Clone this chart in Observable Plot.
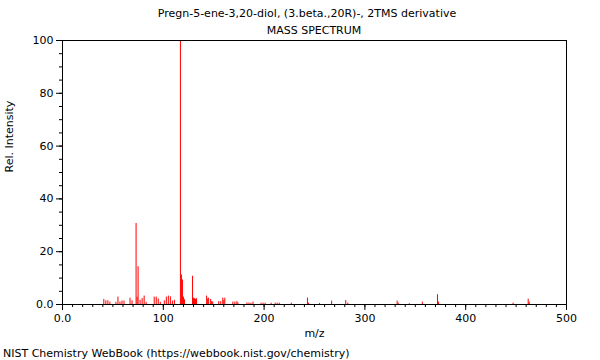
<!DOCTYPE html>
<html>
<head>
<meta charset="utf-8">
<script src="https://cdn.jsdelivr.net/npm/d3@7"></script>
<script src="https://cdn.jsdelivr.net/npm/@observablehq/plot@0.6"></script>
<style>
  html, body { margin: 0; padding: 0; background: #fff; }
  #wrap { position: relative; width: 600px; height: 360px; font-family: "DejaVu Sans", sans-serif; color: #000; }
  .t { position: absolute; font-size: 11px; white-space: nowrap; line-height: 1; }
</style>
</head>
<body>
<div id="wrap">
  <div class="t" id="title1" style="left:0; width:614px; text-align:center; top:8px;">Pregn-5-ene-3,20-diol, (3.beta.,20R)-, 2TMS derivative</div>
  <div class="t" id="title2" style="left:0; width:628px; text-align:center; top:25px;">MASS SPECTRUM</div>
  <div class="t" id="caption" style="left:3px; top:348px;">NIST Chemistry WebBook (https://webbook.nist.gov/chemistry)</div>
</div>
<script>
const mz = [41, 43, 45, 47, 53, 55, 57, 59, 61, 67, 69, 73, 74, 75, 77, 79, 81, 83,
  91, 93, 95, 97, 101, 103, 105, 107, 109, 111, 117, 118, 119, 120, 121,
  129, 130, 131, 132, 133, 143, 144, 145, 147, 148, 149, 155, 157, 159, 160, 161,
  169, 171, 173, 174, 183, 185, 187, 189, 197, 199, 201, 207, 211, 213, 215, 227,
  243, 244, 255, 267, 281, 283, 332, 333, 344, 357, 372, 373, 447, 462, 463];
const intensity = [1.9, 1.4, 1.4, 0.9, 0.8, 2.8, 0.9, 1.3, 1.3, 2.4, 1.4, 30.7, 2.8, 14.3, 1.6, 2.3, 3.2, 0.8,
  2.8, 2.8, 2.1, 0.8, 1.4, 2.8, 3.2, 2.9, 1.3, 1.6, 100, 11.2, 9.3, 2.8, 1.8,
  10.7, 2.4, 2.2, 2.0, 2.2, 3.2, 2.1, 2.4, 1.9, 1.1, 0.9, 1.1, 1.1, 2.4, 1.5, 2.4,
  0.9, 0.9, 1.1, 0.6, 0.6, 0.6, 0.5, 0.9, 0.5, 0.5, 0.5, 0.5, 0.5, 0.5, 0.5, 0.5,
  2.4, 0.5, 0.4, 1.3, 1.5, 0.5, 1.3, 0.5, 0.3, 0.9, 3.7, 0.9, 0.5, 2.0, 0.9];

const xTicks = [0, 100, 200, 300, 400, 500];
const xTickLabels = ["0.0", "100", "200", "300", "400", "500"];
const yTicks = [0, 20, 40, 60, 80, 100];
const yTickLabels = ["0.0", "20", "40", "60", "80", "100"];
const xMinorStep = 10;
const yMinorStep = 5;

const data = mz.map((m, i) => ({mz: m, rel: intensity[i]}));

const chart = Plot.plot({
  width: 600,
  height: 360,
  marginLeft: 62,
  marginRight: 34,
  marginTop: 40,
  marginBottom: 56,
  style: {fontFamily: "DejaVu Sans, sans-serif", fontSize: "11px", color: "#000", background: "transparent"},
  x: {domain: [0, 500]},
  y: {domain: [0, 100]},
  marks: [
    Plot.ruleX(data, {x: "mz", y1: 0, y2: "rel", stroke: "#ff0000", strokeWidth: 1}),
    Plot.axisX({ticks: d3.range(0, 501, xMinorStep), tickSize: 3, text: null, label: null, stroke: "#000"}),
    Plot.axisX({ticks: xTicks, tickSize: 6, tickPadding: 4, tickFormat: (d) => xTickLabels[xTicks.indexOf(d)], label: null, fontSize: 11, stroke: "#000", fill: "#000"}),
    Plot.axisY({ticks: d3.range(0, 101, yMinorStep), tickSize: 3, text: null, label: null, stroke: "#000"}),
    Plot.axisY({ticks: yTicks, tickSize: 6, tickPadding: 3, tickFormat: (d) => yTickLabels[yTicks.indexOf(d)], label: null, fontSize: 11, stroke: "#000", fill: "#000"}),
    Plot.frame({stroke: "#000", strokeWidth: 1}),
    Plot.text(["m/z"], {frameAnchor: "bottom", dy: 32, fontSize: 11, fill: "#000"}),
    Plot.text(["Rel. Intensity"], {frameAnchor: "left", dx: -53, rotate: -90, fontSize: 11, fill: "#000"})
  ]
});
chart.style.position = "absolute";
chart.style.left = "0px";
chart.style.top = "0px";
document.getElementById("wrap").prepend(chart);
</script>
</body>
</html>
